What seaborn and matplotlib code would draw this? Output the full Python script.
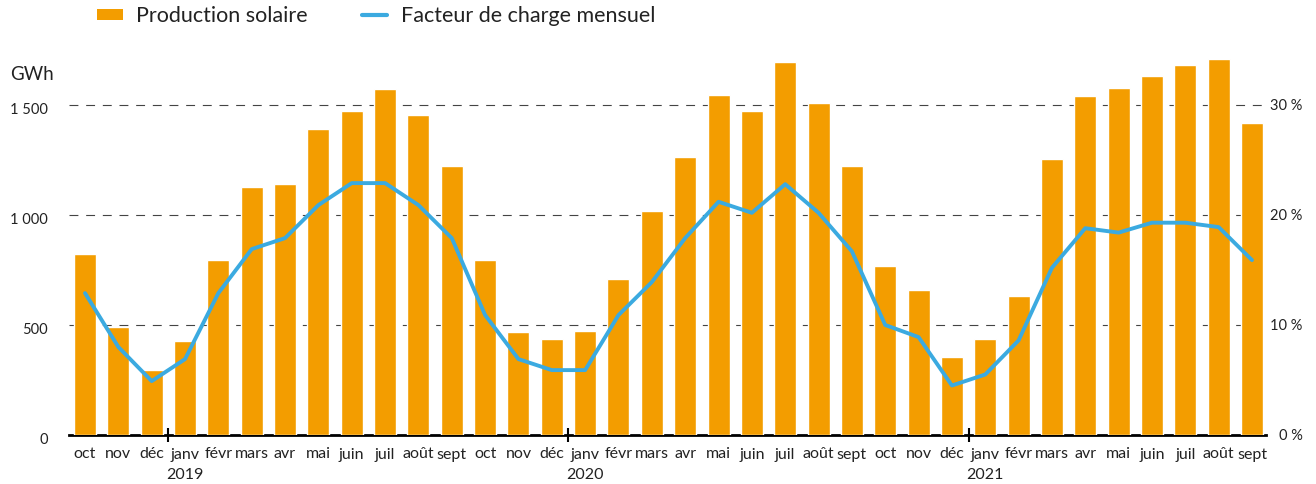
import numpy as np
import pandas as pd
import matplotlib
matplotlib.use("Agg")
import matplotlib.pyplot as plt
import matplotlib.transforms as mtransforms
from matplotlib.patches import Patch
from matplotlib.lines import Line2D
import seaborn as sns

# ---- data ----
mois = ["oct", "nov", "déc", "janv", "févr", "mars", "avr", "mai", "juin",
        "juil", "août", "sept"] * 3
annees = {3: "2019", 15: "2020", 27: "2021"}
production = [823, 492, 295, 427, 795, 1129, 1141, 1391, 1473, 1573, 1455, 1223,
              795, 468, 436, 473, 709, 1018, 1264, 1545, 1473, 1695, 1509, 1223,
              768, 659, 355, 436, 632, 1255, 1541, 1577, 1632, 1682, 1709, 1418]
facteur = [12.9, 8.0, 4.9, 6.9, 12.9, 16.9, 17.9, 20.9, 22.9, 22.9, 20.9, 17.9,
           10.9, 6.9, 5.9, 5.9, 10.9, 13.9, 17.9, 21.2, 20.2, 22.8, 20.2, 16.7,
           10.0, 8.9, 4.5, 5.5, 8.6, 15.2, 18.8, 18.4, 19.3, 19.3, 18.9, 15.9]
gwh_ticks = [0, 500, 1000, 1500]
gwh_labels = ["0", "500", "1 000", "1 500"]
pct_ticks = [0, 10, 20, 30]
pct_labels = ["0 %", "10 %", "20 %", "30 %"]

ORANGE = "#F39D00"
BLUE = "#3BAAE0"
TXT = "#222222"

sns.set_style("white")
plt.rcParams["font.family"] = ["Lato", "DejaVu Sans"]

df = pd.DataFrame({"idx": np.arange(len(production)),
                   "production": production,
                   "facteur": facteur})

W, H = 1316, 484
fig = plt.figure(figsize=(W / 100, H / 100), dpi=100)
ax = fig.add_axes([69 / W, 49 / H, (1266 - 69) / W, (435 - 50) / H])

sns.barplot(data=df, x="idx", y="production", color=ORANGE, saturation=1,
            width=0.66, ax=ax, zorder=2)
ax.set_xlim(-0.48, 35.42)
ax.set_ylim(0, 1750)
ax.set_xlabel("")
ax.set_ylabel("")

# grid
ax.set_yticks(gwh_ticks)
ax.set_yticklabels(gwh_labels)
ax.grid(axis="y", color="#444444", linestyle=(0, (8, 7)), linewidth=0.8)
ax.grid(axis="x", visible=False)
ax.set_axisbelow(True)
for s in ["left", "right", "top"]:
    ax.spines[s].set_visible(False)
ax.spines["bottom"].set_color("black")
ax.spines["bottom"].set_linewidth(2.0)
ax.spines["bottom"].set_zorder(1.5)

ax.tick_params(axis="y", length=0, pad=15, labelsize=10.5, labelcolor=TXT)
off = mtransforms.ScaledTranslation(0, -4 / 100, fig.dpi_scale_trans)
for lab in ax.get_yticklabels():
    lab.set_transform(lab.get_transform() + off)

# x labels
xl = [m + ("\n" + annees[i] if i in annees else "") for i, m in enumerate(mois)]
ax.set_xticks(np.arange(len(mois)))
ax.set_xticklabels(xl, linespacing=1.55)
ax.tick_params(axis="x", which="major", bottom=True, length=0, pad=9,
               labelsize=11.5, labelcolor=TXT)
ax.set_xticks([i - 0.5 for i in annees], minor=True)
ax.tick_params(axis="x", which="minor", bottom=True, direction="inout",
               length=10, width=1.5, color="black")

# line on twin axis
ax2 = ax.twinx()
sns.lineplot(data=df, x="idx", y="facteur", color=BLUE, linewidth=2.8, ax=ax2)
ax2.set_ylim(0, 35)
ax2.set_xlim(-0.48, 35.42)
ax2.set_ylabel("")
ax2.set_yticks(pct_ticks)
ax2.set_yticklabels(pct_labels)
for lab in ax2.get_yticklabels():
    lab.set_horizontalalignment("right")
ax2.tick_params(axis="y", length=0, pad=26.5, labelsize=10.5, labelcolor=TXT)
ax2.grid(False)
for s in ax2.spines.values():
    s.set_visible(False)

fig.text(10 / W, 1 - 75 / H, "GWh", fontsize=13.5, color=TXT, va="center")

handles = [Patch(facecolor=ORANGE, edgecolor="none"),
           Line2D([0], [0], color=BLUE, linewidth=3)]
fig.legend(handles, ["Production solaire", "Facteur de charge mensuel"],
           loc="upper left", bbox_to_anchor=(97 / W, 1 - 6 / H), ncol=2,
           frameon=False, fontsize=15.5, handlelength=1.2, handleheight=0.45,
           handletextpad=0.62, columnspacing=2.5, borderpad=0,
           borderaxespad=0, labelcolor=TXT)

fig.savefig("out.png", dpi=100)
